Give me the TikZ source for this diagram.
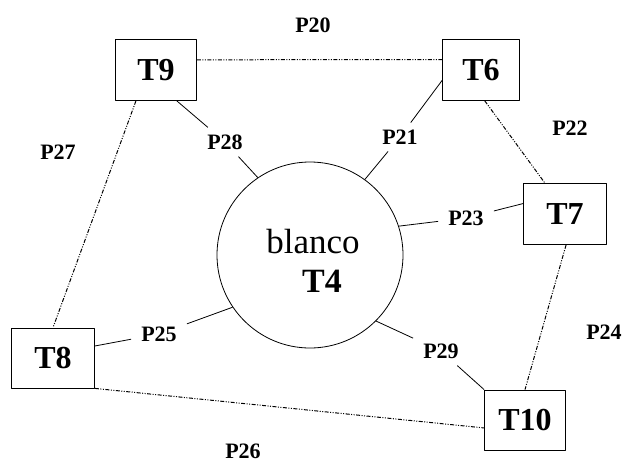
\documentclass[tikz,border=0pt]{standalone}
\usepackage{fontspec}
\setmainfont{Liberation Serif}
\usetikzlibrary{calc}
\begin{document}
\begin{tikzpicture}[x=1pt,y=-1pt,line join=round,
  tbox/.style={draw,line width=0.8pt,minimum width=81pt,minimum height=61pt,inner sep=0pt,font=\fontsize{32}{34}\selectfont\bfseries},
  plabel/.style={inner sep=1pt,font=\fontsize{22}{24}\selectfont\bfseries},
  arclabel/.style={plabel,inner xsep=10pt,inner ysep=7pt},
  link/.style={line width=0.8pt},
  pathline/.style={line width=1pt,dash pattern=on 4pt off 1.5pt on 1pt off 1.5pt on 1pt off 1.5pt}]
\useasboundingbox (0,0) rectangle (622,464);
% --- transitions and the central place
\node[tbox] (t9) at (156,70) {T9};
\node[tbox,minimum width=77pt] (t6) at (481,70) {T6};
\node[tbox,minimum width=83pt] (t7) at (565,214) {T7};
\node[tbox,minimum width=83pt,minimum height=60pt] (t8) at (53,358) {T8};
\node[tbox,minimum height=60pt] (t10) at (525,420) {T10};
\node[draw,circle,line width=0.8pt,minimum size=186pt,inner sep=0pt] (t4) at (310,255) {};
\node[font=\fontsize{35}{36}\selectfont] (blanco) at (313,242) {blanco};
\node[font=\fontsize{34}{36}\selectfont\bfseries] (t4name) at (322,281) {T4};
% --- labels
\node[plabel] (p20) at (313,25) {P20};
\node[arclabel] (p21) at (400,137) {P21};
\node[plabel] (p22) at (570,128) {P22};
\node[arclabel] (p23) at (466,218) {P23};
\node[plabel] (p24) at (604,332) {P24};
\node[arclabel] (p25) at (159,334) {P25};
\node[plabel] (p26) at (243,451) {P26};
\node[plabel] (p27) at (58,152) {P27};
\node[arclabel] (p28) at (225,142) {P28};
\node[arclabel] (p29) at (441,351) {P29};
% --- outer ring (dotted)
\draw[pathline] (t9.14) -- (t6.165);
\draw[pathline] (t6.-83) -- (t7.123);
\draw[pathline] (t7.-88) -- (t10.north);
\draw[pathline] (t8.south east) -- (t10.191);
\draw[pathline] (t9.237) -- (t8.north);
% --- arcs to the central place
\draw[link] (t9.-56) -- (p28); \draw[link] (p28) -- (t4.124.5);
\draw[link] (t6.195) -- (p21); \draw[link] (p21) -- (t4.54);
\draw[link] (t4.18) -- (p23); \draw[link] (p23) -- (t7.166);
\draw[link] (t8.16) -- (p25); \draw[link] (p25) -- (t4.214.5);
\draw[link] (t4.-45) -- (p29); \draw[link] (p29) -- (t10.north west);
\end{tikzpicture}
\end{document}
